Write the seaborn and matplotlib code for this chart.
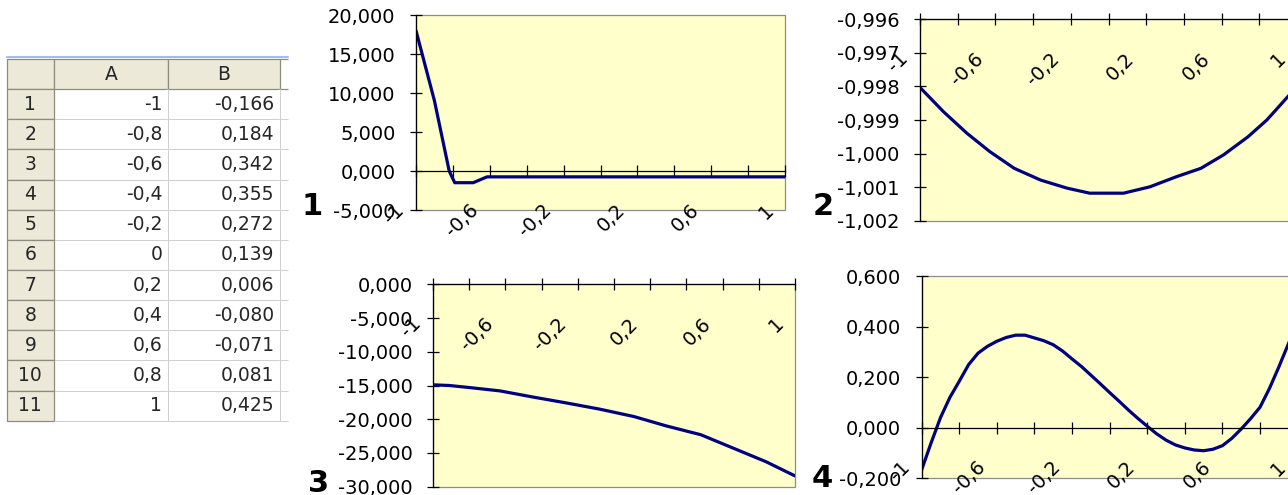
import matplotlib
matplotlib.use("Agg")
import matplotlib.pyplot as plt
import matplotlib.transforms as mtransforms
from matplotlib.table import Table
from matplotlib.patches import Rectangle
import seaborn as sns

# ------------------------------------------------------------------
# Data
# ------------------------------------------------------------------
# spreadsheet columns A and B
col_a = [-1, -0.8, -0.6, -0.4, -0.2, 0, 0.2, 0.4, 0.6, 0.8, 1]
col_b = [-0.166, 0.184, 0.342, 0.355, 0.272, 0.139, 0.006, -0.080, -0.071, 0.081, 0.425]
col_headers = ["", "A", "B", ""]

# chart 1
x1 = [-1.0, -0.9, -0.82, -0.79, -0.69, -0.65, -0.615, 1.0]
y1 = [18.0, 9.0, 0.0, -1.5, -1.5, -1.1, -0.75, -0.75]

# chart 2
x2 = [-1.0, -0.876, -0.75, -0.63, -0.5, -0.36, -0.22, -0.1, 0.08, 0.22, 0.36, 0.49, 0.61, 0.74, 0.84, 0.96, 1.0]
y2 = [-0.99803, -0.99875, -0.99940, -0.99994, -1.00044, -1.00079, -1.00103, -1.00118,
      -1.00118, -1.00099, -1.00069, -1.00044, -1.00004, -0.99950, -0.99900, -0.99825, -0.99805]

# chart 3
x3 = [-1.0, -0.91, -0.8, -0.63, -0.45, -0.26, -0.08, 0.11, 0.29, 0.48, 0.66, 0.84, 1.0]
y3 = [-14.9, -15.0, -15.3, -15.8, -16.7, -17.6, -18.5, -19.6, -21.0, -22.3, -24.3, -26.3, -28.4]

# chart 4 = table values plus the in-between points
x4_mid = [-0.95, -0.9, -0.85, -0.75, -0.7, -0.65, -0.55, -0.5, -0.45, -0.35, -0.3, -0.25,
          -0.15, -0.1, -0.05, 0.05, 0.1, 0.15, 0.25, 0.3, 0.35, 0.45, 0.5, 0.55,
          0.65, 0.7, 0.75, 0.85, 0.9, 0.95]
y4_mid = [-0.06, 0.04, 0.12, 0.25, 0.295, 0.322, 0.357, 0.366, 0.366, 0.344, 0.328, 0.303,
          0.242, 0.208, 0.174, 0.105, 0.07, 0.037, -0.024, -0.049, -0.068, -0.088, -0.091, -0.085,
          -0.042, -0.005, 0.036, 0.155, 0.24, 0.33]

x_ticks = [-1, -0.8, -0.6, -0.4, -0.2, 0, 0.2, 0.4, 0.6, 0.8, 1]
x_labels = ["-1", "", "-0,6", "", "-0,2", "", "0,2", "", "0,6", "", "1"]

y1_ticks = [-5, 0, 5, 10, 15, 20]
y2_ticks = [-1.002, -1.001, -1.000, -0.999, -0.998, -0.997, -0.996]
y3_ticks = [-30, -25, -20, -15, -10, -5, 0]
y4_ticks = [-0.2, 0, 0.2, 0.4, 0.6]

# ------------------------------------------------------------------
# Styling
# ------------------------------------------------------------------
W, H = 1288, 495
PLOT_BG = "#FFFFCC"
LINE = "#000080"
BORDER = "#8C8C8C"
HDR_FILL = "#ECE9D8"
HDR_EDGE = "#8E8C7E"
GRID = "#D0D0D0"
SHEET_BLUE = "#A3BDE8"

sns.set_theme(style="white")
plt.rcParams["font.family"] = ["DejaVu Sans"]


def px_axes(fig, l, t, r, b):
    return fig.add_axes([l / W, 1 - b / H, (r - l) / W, (b - t) / H])


def comma(v, fmt):
    return format(v, fmt).replace(".", ",")


def draw_chart(fig, ax, x, y, yticks, cross):
    ax.set_facecolor(PLOT_BG)
    sns.lineplot(x=x, y=y, ax=ax, color=LINE, linewidth=2.3, sort=False)
    ax.set(xlabel="", ylabel="")
    ax.set_xlim(-1, 1)
    ax.set_ylim(yticks[0], yticks[-1])

    for s in ["top", "right"]:
        ax.spines[s].set_visible(False)
    for s in ["left", "bottom"]:
        ax.spines[s].set_color("black")
        ax.spines[s].set_linewidth(0.9)
    ax.spines["bottom"].set_position(("data", cross))
    ax.add_patch(Rectangle((0, 0), 1, 1, transform=ax.transAxes, fill=False,
                           edgecolor=BORDER, linewidth=0.9, clip_on=False, zorder=0.5))

    ax.set_xticks(x_ticks, x_labels)
    ax.set_yticks(yticks, [comma(v, ".3f") for v in yticks])
    ax.tick_params(axis="both", which="major", direction="inout", length=8.6, width=0.9,
                   colors="black", labelsize=14, bottom=True, left=True)
    ax.tick_params(axis="y", pad=10.5)
    ax.tick_params(axis="x", pad=17)
    shift = mtransforms.ScaledTranslation(-8 / 100, 0, fig.dpi_scale_trans)
    for lab in ax.get_xticklabels():
        lab.set_rotation(45)
        lab.set_ha("right")
        lab.set_transform(lab.get_transform() + shift)


fig = plt.figure(figsize=(W / 100, H / 100), dpi=100)
fig.patch.set_facecolor("white")

# ------------------------------------------------------------------
# Spreadsheet
# ------------------------------------------------------------------
tax = px_axes(fig, 6.7, 56.7, 288, 420.7)
tax.set_axis_off()
tax.axhline(1, color=SHEET_BLUE, linewidth=1.5, clip_on=False)

col_w = [47.3, 114, 112, 8]
table = Table(tax, bbox=[0, 0, 1, (420.7 - 59) / (420.7 - 56.7)])
for c, head in enumerate(col_headers):
    cell = table.add_cell(0, c, width=col_w[c], height=1, text=head, loc="center",
                          facecolor=HDR_FILL, edgecolor=HDR_EDGE)
    if c == 3:
        cell.visible_edges = "TB"
rows = [[comma(a, "g"), comma(b, ".3f")] for a, b in zip(col_a, col_b)]
for r, vals in enumerate(rows, start=1):
    table.add_cell(r, 0, width=col_w[0], height=1, text=str(r), loc="center",
                   facecolor=HDR_FILL, edgecolor=HDR_EDGE)
    for c, v in enumerate(vals, start=1):
        cell = table.add_cell(r, c, width=col_w[c], height=1, text=v, loc="right",
                              facecolor="white", edgecolor=GRID)
        cell.visible_edges = "BR"
        cell.PAD = 0.05
    cell = table.add_cell(r, 3, width=col_w[3], height=1, text="",
                          facecolor="white", edgecolor=GRID)
    cell.visible_edges = "B"
table.auto_set_font_size(False)
table.set_fontsize(13.5)
for (r, c), cell in table.get_celld().items():
    cell.set_linewidth(0.9 if (r == 0 or c == 0) else 0.75)
tax.add_table(table)

# ------------------------------------------------------------------
# Charts
# ------------------------------------------------------------------
ax1 = px_axes(fig, 416, 15, 785, 210)
draw_chart(fig, ax1, x1, y1, y1_ticks, 0)

ax2 = px_axes(fig, 920, 19.3, 1297, 220.7)
draw_chart(fig, ax2, x2, y2, y2_ticks, y2_ticks[-1])

ax3 = px_axes(fig, 433, 284.3, 795, 486.7)
draw_chart(fig, ax3, x3, y3, y3_ticks, y3_ticks[-1])

pts4 = sorted(zip(col_a + x4_mid, col_b + y4_mid))
ax4 = px_axes(fig, 921.7, 276, 1297.6, 478.3)
draw_chart(fig, ax4, [p[0] for p in pts4], [p[1] for p in pts4], y4_ticks, 0)

# chart numbers
for num, (cx, base) in zip(["1", "2", "3", "4"],
                           [(312.5, 215), (823, 215), (319, 492), (822.5, 487)]):
    fig.text(cx / W, 1 - base / H, num, ha="center", va="baseline",
             fontsize=22, fontweight="bold", color="black")

fig.savefig("out.png", dpi=100)
